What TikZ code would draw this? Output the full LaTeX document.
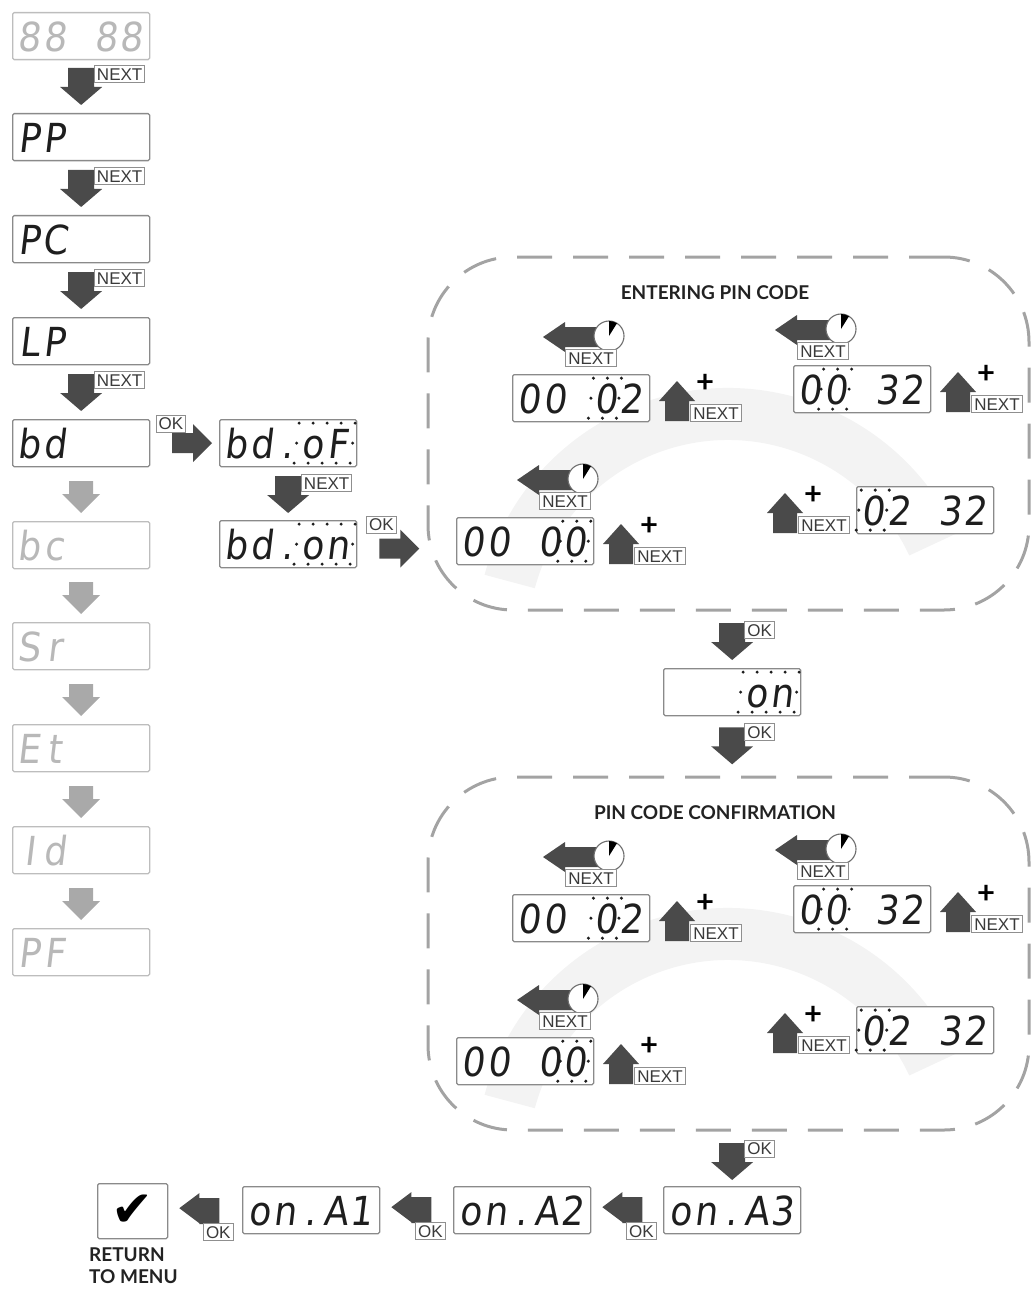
\documentclass[tikz,border=0pt]{standalone}
\usepackage{fontspec}
\setmainfont{Lato}
\newfontfamily\segfont[FakeSlant=0.12,FakeStretch=0.9]{DejaVu Sans}
\newfontfamily\lblfont{Liberation Sans}
\newfontfamily\symfont{DejaVu Sans}
\usetikzlibrary{calc}

\definecolor{arrdark}{HTML}{4A4A4A}
\definecolor{arrlight}{HTML}{A9A9A9}
\definecolor{displine}{HTML}{8A8A8A}
\definecolor{fadeline}{HTML}{BDBDBD}
\definecolor{fadeink}{HTML}{B8B8B8}
\definecolor{segink}{HTML}{1E1E1E}
\definecolor{lblline}{HTML}{8F8F8F}
\definecolor{lblink}{HTML}{3A3A3A}
\definecolor{dashcol}{HTML}{A3A3A3}
\definecolor{swooshcol}{HTML}{F3F3F3}
\definecolor{clockline}{HTML}{6E6E6E}
\definecolor{ttlink}{HTML}{222222}

\newcommand\sg[1]{\makebox[25.4pt][c]{#1}}
\newcommand\segs[1]{\makebox[129pt][l]{#1}}

\tikzset{
 disp/.style={draw=displine, line width=1.3pt, rounded corners=1.5pt, fill=white, anchor=north west,
   minimum width=137pt, minimum height=47pt, inner xsep=4pt, inner ysep=0pt,
   text height=30pt, text depth=0pt, font=\segfont\fontsize{40}{40}\selectfont, text=segink},
 faded/.style={draw=fadeline, text=fadeink},
 lbl/.style={draw=lblline, line width=0.9pt, fill=white, inner xsep=2.5pt, inner ysep=2.3pt,
   text height=12.4pt, text depth=0pt, font=\lblfont\fontsize{17}{17}\selectfont, text=lblink},
 ttl/.style={font=\bfseries\fontsize{19}{22}\selectfont, text=ttlink, inner sep=0pt},
 plussign/.style={font=\bfseries\fontsize{31}{31}\selectfont, text=black, inner sep=0pt},
 dashbox/.style={draw=dashcol, line width=3pt, dash pattern=on 35pt off 21pt, rounded corners=85pt,
   minimum width=601pt, minimum height=353pt, inner sep=0pt},
 chkbox/.style={draw=displine, line width=1.3pt, rounded corners=1.5pt, fill=white, anchor=north west,
   minimum width=70pt, minimum height=55pt, inner sep=0pt},
 pics/dnarrow/.style={code={\fill[#1] (-13,-37) -- (13,-37) -- (13,-18) -- (21,-18) -- (0,0) -- (-21,-18) -- (-13,-18) -- cycle;}},
 pics/graydn/.style={code={\fill[arrlight] (-12,-32) -- (12,-32) -- (12,-19) -- (19,-19) -- (0,0) -- (-19,-19) -- (-12,-19) -- cycle;}},
 pics/uparrow/.style={code={\fill[arrdark] (0,0) -- (18,20) -- (12,20) -- (12,40) -- (-12,40) -- (-12,20) -- (-18,20) -- cycle;}},
 pics/rtarrow/.style={code={\fill[arrdark] (0,0) -- (-19,-19) -- (-19,-10) -- (-40,-10) -- (-40,10) -- (-19,10) -- (-19,19) -- cycle;}},
 pics/lfarrow/.style={code={\fill[arrdark] (0,0) -- (20,-15) -- (20,-10) -- (40,-10) -- (40,16) -- (20,16) -- (20,15) -- cycle;}},
 pics/clockarrow/.style={code={
   \fill[arrdark] (0,0) -- (22,-15) -- (22,-10) -- (64,-10) -- (64,10) -- (22,10) -- (22,15) -- cycle;
   \filldraw[fill=white, draw=clockline, line width=1.1pt] (66,-1) circle[radius=15];
   \fill[black] (66,-1) -- ++(-90:15) arc[start angle=-90, end angle=-58, radius=15] -- cycle;}},
}

\newcommand\blinkone[2]{\foreach \u/\v in {-1/-1,0/-1,1/-1,-1/0,1/0,-1/1,0/1,1/1}{%
  \fill[segink] ($(#1.west)+({4+25.4*(#2+0.5)+(\u)*14-(\v)*2.5},{(\v)*20})$) circle[radius=1.7];}}
\newcommand\blinktwo[1]{\foreach \u/\v in {-1/-1,-0.5/-1,0/-1,0.5/-1,1/-1,-1/0,1/0,-1/1,-0.5/1,0/1,0.5/1,1/1}{%
  \fill[segink] ($(#1.west)+({105.6+(\u)*28-(\v)*2.5},{(\v)*20})$) circle[radius=1.7];}}
\newcommand\clockgroup[3]{%
  \pic at ($(#1.north west)+(#2,#3)$) {clockarrow};
  \node[lbl] (#1-cn) at ($(#1.north west)+({#2+48},{#3+21})$) {NEXT};}
\newcommand\plusgroup[2]{%
  \pic at ($(#1.north west)+(#2,7)$) {uparrow};
  \node[plussign] (#1-pl) at ($(#1.north west)+({#2+28},9)$) {+};
  \node[lbl] (#1-un) at ($(#1.north west)+({#2+39},39)$) {NEXT};}
\newcommand\pingroup[3]{%
  \fill[swooshcol] (728,{640+#1}) ++(-165:252) arc[start angle=-165,end angle=-25,radius=252]
     -- ++(-25:-52) arc[start angle=-25,end angle=-165,radius=200] -- cycle;
  \node[dashbox] (g#3) at (728.5,{433.5+#1}) {};
  \node[ttl] (t#3) at (715,{293+#1}) {#2};
  \node[disp] (#3a) at (512,{374+#1}) {\segs{\sg{0}\sg{0}\sg{}\sg{0}\sg{2}}};
  \node[disp] (#3b) at (793,{365+#1}) {\segs{\sg{0}\sg{0}\sg{}\sg{3}\sg{2}}};
  \node[disp] (#3c) at (856,{486+#1}) {\segs{\sg{0}\sg{2}\sg{}\sg{3}\sg{2}}};
  \node[disp] (#3d) at (456,{517+#1}) {\segs{\sg{0}\sg{0}\sg{}\sg{0}\sg{0}}};
  \blinkone{#3a}{3}\blinkone{#3b}{1}\blinkone{#3c}{0}\blinkone{#3d}{4}
  \clockgroup{#3a}{31}{-37}
  \clockgroup{#3b}{-18}{-35}
  \clockgroup{#3d}{61}{-37}
  \plusgroup{#3a}{165}
  \plusgroup{#3b}{165}
  \plusgroup{#3c}{-71}
  \plusgroup{#3d}{165}
}

\begin{document}
\begin{tikzpicture}[x=1pt,y=-1pt]
\useasboundingbox (0,0) rectangle (1031,1289);

% ---------- left column ----------
\node[disp,faded] (d1) at (12,12) {\segs{\sg{8}\sg{8}\sg{}\sg{8}\sg{8}}};
\node[disp] (d2) at (12,113) {\segs{\sg{P}\sg{P}}};
\node[disp] (d3) at (12,215) {\segs{\sg{P}\sg{C}}};
\node[disp] (d4) at (12,317) {\segs{\sg{L}\sg{P}}};
\node[disp] (d5) at (12,419) {\segs{\sg{b}\sg{d}}};
\node[disp,faded] (d6) at (12,521) {\segs{\sg{b}\sg{c}}};
\node[disp,faded] (d7) at (12,622) {\segs{\sg{S}\sg{r}}};
\node[disp,faded] (d8) at (12,724) {\segs{\sg{E}\sg{t}}};
\node[disp,faded] (d9) at (12,826) {\segs{\sg{I}\sg{d}}};
\node[disp,faded] (d10) at (12,928) {\segs{\sg{P}\sg{F}}};

\foreach \b in {d2,d3,d4,d5}{
  \pic at ($(\b.north)+(0,-8)$) {dnarrow=arrdark};
  \node[lbl] (nx-\b) at ($(\b.north)+(38.5,-39)$) {NEXT};
}
\foreach \b in {d6,d7,d8,d9,d10}{
  \pic at ($(\b.north)+(0,-8)$) {graydn};
}

% ---------- bd sub menu ----------
\node[disp] (e1) at (219,419) {\segs{\sg{b}\sg{d}\sg{.}\sg{o}\sg{F}}};
\node[disp] (e2) at (219,520) {\segs{\sg{b}\sg{d}\sg{.}\sg{o}\sg{n}}};
\blinktwo{e1}
\blinktwo{e2}
\pic at ($(e1.west)+(-7,0)$) {rtarrow};
\node[lbl] (ok-e1) at ($(e1.west)+(-48,-19.5)$) {OK};
\pic at ($(e2.north)+(0,-7)$) {dnarrow=arrdark};
\node[lbl] (nx-e2) at ($(e2.north)+(38.5,-37)$) {NEXT};
\pic at ($(e2.east)+(62,4.5)$) {rtarrow};
\node[lbl] (ok-e2) at ($(e2.east)+(24,-19.5)$) {OK};

% ---------- PIN groups ----------
\pingroup{0}{ENTERING PIN CODE}{pA}
\pingroup{520}{PIN CODE CONFIRMATION}{pB}

% ---------- middle "on" ----------
\node[disp] (on) at (663,668) {\segs{\sg{}\sg{}\sg{}\sg{o}\sg{n}}};
\blinktwo{on}
\pic at ($(on.north)+(0,-8)$) {dnarrow=arrdark};
\node[lbl] (ok-on1) at ($(on.north)+(27.5,-38)$) {OK};
\pic at ($(on.south)+(0,48)$) {dnarrow=arrdark};
\node[lbl] (ok-on2) at ($(on.south)+(27.5,16)$) {OK};

% ---------- bottom row ----------
\node[disp] (a3) at (663,1186) {\segs{\sg{o}\sg{n}\sg{.}\sg{A}\sg{3}}};
\node[disp] (a2) at (453,1186) {\segs{\sg{o}\sg{n}\sg{.}\sg{A}\sg{2}}};
\node[disp] (a1) at (242,1186) {\segs{\sg{o}\sg{n}\sg{.}\sg{A}\sg{1}}};
\node[chkbox] (ck) at (97,1183) {\symfont\fontsize{50}{50}\selectfont ✔};
\pic at ($(a3.north)+(0,-6)$) {dnarrow=arrdark};
\node[lbl] (ok-a3) at ($(a3.north)+(27.5,-37.5)$) {OK};
\foreach \n in {a2,a1,ck}{
  \pic at ($(\n.east)+(11,-3)$) {lfarrow};
  \node[lbl] (ok-\n) at ($(\n.east)+(50,21)$) {OK};
}
\node[ttl, anchor=north west, align=left] (ret) at (89,1248) {RETURN\\TO MENU};
\end{tikzpicture}
\end{document}
